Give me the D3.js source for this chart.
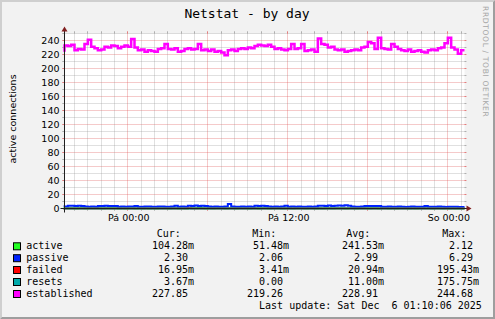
<!DOCTYPE html>
<html><head><meta charset="utf-8">
<script src="https://cdn.jsdelivr.net/npm/d3@7"></script>
<style>
html,body{margin:0;padding:0;background:#F2F2F2;}
svg{display:block;}
text{font-family:"DejaVu Sans",sans-serif;fill:#000;}
.mono{font-family:"DejaVu Sans Mono",monospace;white-space:pre;}
</style></head><body>
<svg id="chart" width="495" height="319"></svg>
<script>
// ---------- data ----------
const title = "Netstat - by day";
const yAxisLabel = "active connections";
const watermark = "RRDTOOL / TOBI OETIKER";
const startTime = new Date(2025, 11, 4, 19, 15);
const endTime = new Date(2025, 11, 6, 1, 15);
const stepMinutes = 15;
const yTicks = [0, 20, 40, 60, 80, 100, 120, 140, 160, 180, 200, 220, 240];
const xLabelTimes = [new Date(2025, 11, 5, 0, 0), new Date(2025, 11, 5, 12, 0), new Date(2025, 11, 6, 0, 0)];
const xLabels = ["Pá 00:00", "Pá 12:00", "So 00:00"];

const seriesNames = ["active", "passive", "failed", "resets", "established"];
const seriesColors = ["#22ff22", "#0022ff", "#ff0000", "#00aaaa", "#ff00ff"];

const active = [0.12,0.25,0.18,0.31,0.09,0.22,0.41,0.15,0.28,0.19,0.35,0.21,0.14,0.27,0.52,0.18,0.23,0.11,0.29,0.16,
0.24,0.38,0.13,0.2,0.17,0.31,0.09,0.26,0.14,0.22,0.19,0.33,0.12,0.28,0.45,0.17,0.21,0.15,0.3,0.24,
0.18,2.12,0.27,0.16,0.22,0.13,0.29,0.19,0.25,0.11,0.34,0.2,0.15,0.26,0.18,0.31,0.14,0.23,0.38,0.17,
0.22,0.29,0.13,0.25,0.19,0.32,0.16,0.21,0.27,0.12,0.24,0.18,0.36,0.15,0.28,0.2,0.11,0.33,0.17,0.26,
0.22,0.14,0.3,0.19,0.25,0.13,0.21,0.35,0.16,0.24,0.18,0.27,0.12,0.29,0.2,0.15,0.31,0.22,0.17,0.26,
0.13,0.28,0.19,0.23,0.16,0.32,0.14,0.21,0.25,0.18,0.3,0.12,0.24,0.2,0.15,0.27,0.11,0.22,0.17,0.1,0.104];
const passive = [2.6,2.8,3.8,4.1,3.6,3.9,3.5,2.7,2.5,2.8,2.6,3.6,3.4,3.8,3.5,3.7,3.4,2.6,2.8,2.5,
2.7,2.9,3.7,2.6,2.5,2.8,2.7,2.6,2.4,2.7,2.8,2.6,2.5,2.7,4.0,2.6,2.8,2.5,3.9,3.6,
4.2,3.5,3.8,3.4,2.7,2.6,2.8,2.5,2.6,2.7,6.29,2.8,2.6,2.5,2.7,2.6,2.8,2.5,3.9,3.6,
4.0,3.5,2.7,2.6,2.8,2.5,2.7,4.1,2.6,2.8,2.5,2.7,2.6,2.4,2.7,2.6,2.8,3.8,4.0,3.6,
4.3,3.7,3.9,4.4,3.9,4.5,3.8,2.7,2.6,2.5,2.8,3.6,3.4,3.7,3.5,3.6,2.6,2.5,2.7,2.4,
2.6,2.8,2.5,2.3,2.6,2.7,2.5,2.4,2.6,3.6,2.5,2.6,2.4,2.7,2.5,2.3,2.6,2.4,2.5,2.3,2.3];
const failed = [0.02,0.01,0.03,0.02,0.01,0.02,0.04,0.02,0.01,0.02,0.03,0.02,0.01,0.02,0.02,0.03,0.01,0.02,0.02,0.01,
0.02,0.03,0.02,0.01,0.02,0.02,0.04,0.01,0.02,0.02,0.03,0.01,0.02,0.02,0.01,0.03,0.02,0.02,0.195,0.02,
0.01,0.02,0.03,0.02,0.01,0.02,0.02,0.03,0.01,0.02,0.02,0.01,0.03,0.02,0.02,0.01,0.02,0.03,0.02,0.01,
0.02,0.02,0.03,0.01,0.02,0.02,0.01,0.03,0.02,0.02,0.01,0.02,0.03,0.02,0.01,0.02,0.02,0.03,0.01,0.02,
0.02,0.01,0.03,0.02,0.02,0.01,0.02,0.03,0.02,0.01,0.02,0.02,0.03,0.01,0.02,0.02,0.01,0.03,0.02,0.02,
0.01,0.02,0.03,0.02,0.01,0.02,0.02,0.03,0.01,0.02,0.02,0.01,0.03,0.02,0.02,0.01,0.02,0.03,0.02,0.01,0.017];
const resets = [0.01,0.0,0.02,0.01,0.0,0.01,0.02,0.01,0.0,0.01,0.02,0.01,0.0,0.01,0.01,0.02,0.0,0.01,0.01,0.0,
0.01,0.02,0.01,0.0,0.01,0.01,0.02,0.0,0.01,0.01,0.176,0.0,0.01,0.01,0.0,0.02,0.01,0.01,0.02,0.01,
0.0,0.01,0.02,0.01,0.0,0.01,0.01,0.02,0.0,0.01,0.01,0.0,0.02,0.01,0.01,0.0,0.01,0.02,0.01,0.0,
0.01,0.01,0.02,0.0,0.01,0.01,0.0,0.02,0.01,0.01,0.0,0.01,0.02,0.01,0.0,0.01,0.01,0.02,0.0,0.01,
0.01,0.0,0.02,0.01,0.01,0.0,0.01,0.02,0.01,0.0,0.01,0.01,0.02,0.0,0.01,0.01,0.0,0.02,0.01,0.01,
0.0,0.01,0.02,0.01,0.0,0.01,0.01,0.02,0.0,0.01,0.01,0.0,0.02,0.01,0.01,0.0,0.01,0.02,0.01,0.0,0.004];
const established = [224,233,232,234,226,228,227,235,241,231,229,226,227,231,230,233,232,229,231,233,
231,242,230,226,227,224,226,225,224,228,229,235,228,227,229,224,225,228,229,227,
228,235,226,227,225,227,224,225,223,219,226,227,225,228,229,228,230,229,232,234,
233,232,234,231,228,229,227,226,228,235,228,229,235,225,226,227,224,243,235,234,
230,231,227,226,227,224,225,226,227,226,230,231,238,236,228,244,229,228,227,235,
231,228,226,225,227,224,225,226,224,223,226,227,226,229,230,236,244,230,227,221,226];

const legendHeaders = ["Cur:", "Min:", "Avg:", "Max:"];
const statCur = ["104.28m", "2.30", "16.95m", "3.67m", "227.85"];
const statMin = ["51.48m", "2.06", "3.41m", "0.00", "219.26"];
const statAvg = ["241.53m", "2.99", "20.94m", "11.00m", "228.91"];
const statMax = ["2.12", "6.29", "195.43m", "175.75m", "244.68"];
const lastUpdate = "Last update: Sat Dec  6 01:10:06 2025";

// ---------- layout ----------
const W = 495, H = 319;
const X0 = 64.5, X1 = 464.5, Y0 = 208.5, Y1 = 33.5;
const svg = d3.select("#chart");

// 3D shade border
svg.append("rect").attr("x",0).attr("y",0).attr("width",W).attr("height",H).attr("fill","#F2F2F2");
svg.append("path").attr("fill","#CFCFCF")
  .attr("d",`M0,${H} L2,${H-2} L2,2 L${W-2},2 L${W},0 L0,0 Z`);
svg.append("path").attr("fill","#9E9E9E")
  .attr("d",`M2,${H-2} L${W-2},${H-2} L${W-2},2 L${W},0 L${W},${H} L0,${H} Z`);

// canvas
svg.append("rect").attr("x",X0).attr("y",Y1).attr("width",X1-X0).attr("height",Y0-Y1).attr("fill","#FFFFFF");

const x = d3.scaleTime().domain([startTime, endTime]).range([X0, X1]);
const y = d3.scaleLinear().domain([0, 250]).range([Y0, Y1]);

const gridMinor = "rgba(143,143,143,0.55)";
const gridMajor = "rgba(222,79,79,0.6)";

// horizontal grid
const hMinor = d3.range(10, 251, 10);
const gH = svg.append("g");
hMinor.forEach(v => {
  const yy = Math.round(y(v) - 0.5) + 0.5;
  const major = v % 20 === 0;
  const c = major ? gridMajor : gridMinor;
  gH.append("line").attr("x1",X0-2).attr("x2",X1+2).attr("y1",yy).attr("y2",yy)
    .attr("stroke",c).attr("stroke-width",1).attr("stroke-dasharray","1,1");
  gH.append("line").attr("x1",X0-2).attr("x2",X0).attr("y1",yy).attr("y2",yy).attr("stroke",c);
  gH.append("line").attr("x1",X1).attr("x2",X1+2).attr("y1",yy).attr("y2",yy).attr("stroke",c);
});

// vertical grid (every hour, major every 6 hours)
const hours = d3.timeHour.range(startTime, endTime);
const gV = svg.append("g");
hours.forEach(t => {
  if (t <= startTime) return;
  const xx = Math.round(x(t) - 0.5) + 0.5;
  const major = t.getHours() % 6 === 0;
  const c = major ? gridMajor : gridMinor;
  gV.append("line").attr("x1",xx).attr("x2",xx).attr("y1",Y0+2).attr("y2",Y1-2)
    .attr("stroke",c).attr("stroke-width",1).attr("stroke-dasharray","1,1");
  gV.append("line").attr("x1",xx).attr("x2",xx).attr("y1",Y0).attr("y2",Y0+2).attr("stroke",c);
  gV.append("line").attr("x1",xx).attr("x2",xx).attr("y1",Y1-2).attr("y2",Y1).attr("stroke",c);
});

// y labels
svg.append("g").selectAll("text").data(yTicks).join("text")
  .attr("x", 59.5).attr("y", d => y(d) + 3.3)
  .attr("text-anchor","end").attr("font-size","9.5px").text(d => d);

// x labels
svg.append("g").selectAll("text").data(xLabelTimes).join("text")
  .attr("x", d => x(d) + 1).attr("y", 220.5)
  .attr("text-anchor","middle").attr("font-size","9.5px").text((d,i) => xLabels[i]);

// vertical axis label
svg.append("text").attr("transform","translate(15.5,119) rotate(-90)")
  .attr("text-anchor","middle").attr("font-size","9.5px").text(yAxisLabel);

// title
svg.append("text").attr("class","mono").attr("x",247).attr("y",18.3)
  .attr("text-anchor","middle").attr("font-size","13px").text(title);

// watermark
svg.append("text").attr("transform","translate(482.6,6) rotate(90)")
  .attr("font-size","7.6px").attr("letter-spacing","0.62px")
  .style("fill","#A6A6A6").text(watermark);

// series lines
const seriesData = [active, passive, failed, resets, established];
const lineGen = d3.line()
  .x((d,i) => x(d3.timeMinute.offset(startTime, i*stepMinutes)))
  .y(d => y(d))
  .curve(d3.curveStepBefore);
const gL = svg.append("g");
seriesData.forEach((vals, k) => {
  gL.append("path").attr("d", lineGen(vals)).attr("fill","none")
    .attr("stroke", seriesColors[k]).attr("stroke-width", k === 4 ? 2.5 : 2)
    .attr("stroke-linejoin","miter");
});

// axes
svg.append("line").attr("x1",X0-4).attr("x2",X1+4).attr("y1",Y0).attr("y2",Y0).attr("stroke","#1F1F1F");
svg.append("line").attr("x1",X0).attr("x2",X0).attr("y1",Y0+4).attr("y2",Y1-4).attr("stroke","#1F1F1F");
svg.append("path").attr("fill","#801F1F")
  .attr("d",`M${X1+2},${Y0-3} L${X1+2},${Y0+3} L${X1+7},${Y0} Z`);
svg.append("path").attr("fill","#801F1F")
  .attr("d",`M${X0-3},${Y1-2} L${X0+3},${Y1-2} L${X0},${Y1-7} Z`);

// legend
const rowBase = [249.3, 261.2, 273, 285, 297];
const hdrX = [156.8, 252.2, 346.2, 442.2];
const numEnd = [188, 283, 378, 473];
const gLeg = svg.append("g").attr("font-size","10px");
legendHeaders.forEach((h,i) => {
  gLeg.append("text").attr("class","mono").attr("x",hdrX[i]).attr("y",237.3).text(h);
});
const stats = [statCur, statMin, statAvg, statMax];
seriesNames.forEach((name, k) => {
  const b = rowBase[k];
  gLeg.append("rect").attr("x",13.5).attr("y",b-6.5).attr("width",7).attr("height",7)
    .attr("fill",seriesColors[k]).attr("stroke","#000").attr("stroke-width",1);
  gLeg.append("text").attr("class","mono").attr("x",26.3).attr("y",b).text(name);
  stats.forEach((col, j) => {
    const s = col[k];
    const unit = /[a-zA-Z]$/.test(s) ? s.slice(-1) : "";
    const num = unit ? s.slice(0,-1) : s;
    gLeg.append("text").attr("class","mono").attr("x",numEnd[j]).attr("y",b)
      .attr("text-anchor","end").text(num);
    if (unit) gLeg.append("text").attr("class","mono").attr("x",numEnd[j]).attr("y",b).text(unit);
  });
});
gLeg.append("text").attr("class","mono").attr("x",481.8).attr("y",308.8)
  .attr("text-anchor","end").text(lastUpdate);
</script>
</body></html>
